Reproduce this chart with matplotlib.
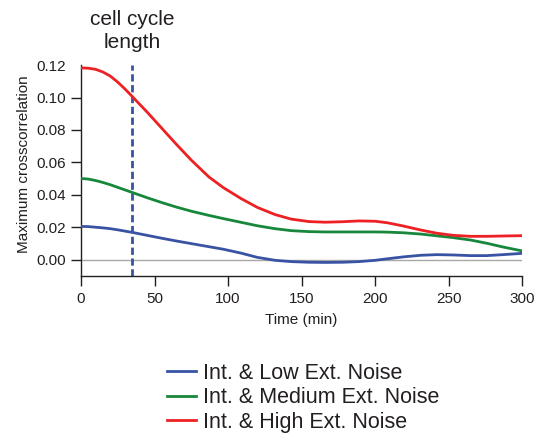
import numpy as np
import matplotlib
import matplotlib.pyplot as plt
import matplotlib.transforms as mtransforms

matplotlib.use("Agg")
plt.rcParams['font.family'] = ['Liberation Sans', 'DejaVu Sans']

# time points (min)
time = [0, 5, 10, 15, 20, 25, 30, 35, 45, 55, 65, 75, 87, 97, 109, 120, 132, 143, 155, 166, 178,
        189, 200, 208, 219, 231, 242, 253, 265, 276, 287, 300]

low_noise = [0.0205, 0.0204, 0.0200, 0.0196, 0.0191, 0.0184, 0.0176, 0.0168, 0.0150, 0.0132,
             0.0115, 0.0099, 0.0080, 0.0064, 0.0040, 0.0014, -0.0004, -0.0012, -0.0016, -0.0017,
             -0.0016, -0.0012, -0.0004, 0.0005, 0.0017, 0.0027, 0.0031, 0.0029, 0.0025, 0.0025,
             0.0031, 0.0039]
medium_noise = [0.0501, 0.0497, 0.0488, 0.0476, 0.0462, 0.0446, 0.0430, 0.0414, 0.0382, 0.0352,
                0.0324, 0.0299, 0.0273, 0.0253, 0.0230, 0.0209, 0.0191, 0.0179, 0.0173, 0.0171,
                0.0171, 0.0171, 0.0171, 0.0170, 0.0166, 0.0158, 0.0147, 0.0136, 0.0121, 0.0101,
                0.0078, 0.0054]
high_noise = [0.1183, 0.1181, 0.1174, 0.1157, 0.1132, 0.1095, 0.1052, 0.1005, 0.0910, 0.0810,
              0.0710, 0.0614, 0.0510, 0.0443, 0.0376, 0.0322, 0.0278, 0.0250, 0.0235, 0.0231,
              0.0234, 0.0239, 0.0237, 0.0228, 0.0208, 0.0183, 0.0163, 0.0150, 0.0144, 0.0144,
              0.0146, 0.0148]

labels = ["Int. & Low Ext. Noise", "Int. & Medium Ext. Noise", "Int. & High Ext. Noise"]
colors = ["#3953a4", "#17873b", "#ed2024"]
cell_cycle = 35

fig = plt.figure(figsize=(5.4, 4.4), dpi=100)
ax = fig.add_axes([0.15, 0.373, 0.817, 0.479])

ax.axhline(0, color="#a8a8a8", linewidth=1.0, zorder=1)
handles = []
for series, lab, col in zip([low_noise, medium_noise, high_noise], labels, colors):
    h, = ax.plot(time, series, color=col, linewidth=2.0, label=lab, zorder=3,
                 solid_joinstyle="round")
    handles.append(h)

ax.axvline(cell_cycle, color="#3953a4", linewidth=2.0, linestyle=(0, (2.6, 1.3)), zorder=2)

trans = mtransforms.blended_transform_factory(ax.transData, fig.transFigure)
ax.text(cell_cycle, 0.930, "cell cycle\nlength", transform=trans, ha="center", va="center",
        fontsize=15, color="#231f20", linespacing=1.27)

ax.set_xlim(0, 300)
ax.set_ylim(-0.01, 0.12)
ax.set_xticks(np.arange(0, 301, 50))
ax.set_yticks(np.arange(0, 0.121, 0.02))
ax.set_yticklabels([f"{v:.2f}" for v in np.arange(0, 0.121, 0.02)])
ax.tick_params(direction="out", length=7, width=1.0, labelsize=11, colors="#231f20")
ax.tick_params(axis="x", pad=4.5)
ax.tick_params(axis="y", pad=3.5)
# the top tick sits on the end of the spine and is not drawn
ax.yaxis.get_major_ticks()[-1].tick1line.set_visible(False)

for side in ["top", "right"]:
    ax.spines[side].set_visible(False)
for side in ["left", "bottom"]:
    ax.spines[side].set_color("#231f20")
    ax.spines[side].set_linewidth(1.0)

ax.set_xlabel("Time (min)", fontsize=11, color="#231f20", labelpad=5)
ax.set_ylabel("Maximum crosscorrelation", fontsize=11, color="#231f20")
ax.yaxis.set_label_coords(-0.113, 0.532)

fig.legend(handles=handles, loc="center left", bbox_to_anchor=(0.309, 0.096), frameon=False,
           fontsize=15.5, handlelength=1.35, handletextpad=0.33, labelspacing=0.17,
           borderpad=0, borderaxespad=0, labelcolor="#231f20")

plt.savefig("out.png", dpi=100)
